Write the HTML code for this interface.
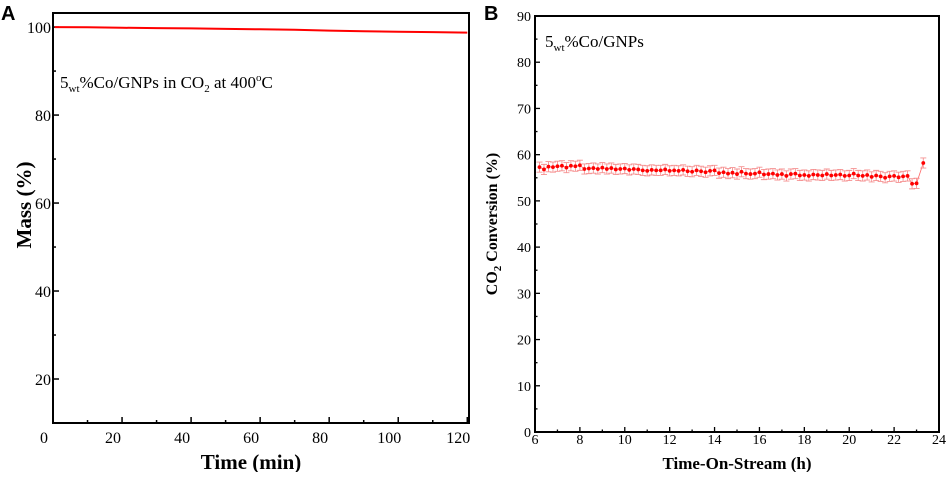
<!DOCTYPE html>
<html><head><meta charset="utf-8"><style>
html,body{margin:0;padding:0;background:#fff;}
svg text{font-family:"Liberation Serif",serif;}
</style></head><body>
<svg id="s" width="948" height="472" xmlns="http://www.w3.org/2000/svg">
<text x="1" y="20" font-weight="bold" font-size="20" style="font-family:'Liberation Sans',sans-serif">A</text>
<text x="484" y="20" font-weight="bold" font-size="20" style="font-family:'Liberation Sans',sans-serif">B</text>
</svg>
<script>
// Panel A data
const aTimes=[0.5,10,20,30,40,50,60,70,80,90,100,110,120];
const aMass=[100,99.95,99.85,99.75,99.7,99.6,99.5,99.4,99.2,99.05,98.95,98.85,98.75];
const aXTicks=[0,20,40,60,80,100,120];
const aYTicks=[20,40,60,80,100];
// Panel B data
const bTimes=[6.2,6.4,6.6,6.8,7.0,7.2,7.4,7.6,7.8,8.0,8.2,8.4,8.6,8.8,9.0,9.2,9.4,9.6,9.8,10.0,10.2,10.4,10.6,10.8,11.0,11.2,11.4,11.6,11.8,12.0,12.2,12.4,12.6,12.8,13.0,13.2,13.4,13.6,13.8,14.0,14.2,14.4,14.6,14.8,15.0,15.2,15.4,15.6,15.8,16.0,16.2,16.4,16.6,16.8,17.0,17.2,17.4,17.6,17.8,18.0,18.2,18.4,18.6,18.8,19.0,19.2,19.4,19.6,19.8,20.0,20.2,20.4,20.6,20.8,21.0,21.2,21.4,21.6,21.8,22.0,22.2,22.4,22.6,22.8,23.0,23.3];
const bConv=[57.3,56.8,57.4,57.3,57.5,57.6,57.2,57.6,57.5,57.7,
56.9,57.0,57.1,56.9,57.2,56.9,57.1,56.8,56.9,57.0,
56.7,56.9,56.8,56.6,56.5,56.7,56.6,56.6,56.8,56.5,
56.6,56.5,56.7,56.4,56.3,56.6,56.4,56.2,56.5,56.6,
56.0,56.2,55.9,56.1,55.8,56.3,55.9,55.8,55.9,56.2,
55.7,55.8,55.9,55.6,55.8,55.4,55.8,55.9,55.5,55.6,
55.4,55.7,55.6,55.5,55.8,55.5,55.6,55.7,55.4,55.5,
55.9,55.5,55.4,55.6,55.2,55.5,55.3,55.0,55.3,55.4,
55.1,55.3,55.4,53.7,53.8,58.2];
const bErr=1.1;
const bXTicks=[6,8,10,12,14,16,18,20,22,24];
const bYTicks=[0,10,20,30,40,50,60,70,80,90];

const NS="http://www.w3.org/2000/svg";
const svg=document.getElementById('s');
function mk(tag,attrs,parent){const e=document.createElementNS(NS,tag);for(const k in attrs)e.setAttribute(k,attrs[k]);(parent||svg).appendChild(e);return e;}

// ---- Panel A ----
const A={x0:53,x1:469,y0:13,y1:423,xmin:0,xmax:120.5,ymin:10,ymax:103.2};
const ax=v=>A.x0+(v-A.xmin)/(A.xmax-A.xmin)*(A.x1-A.x0);
const ay=v=>A.y1-(v-A.ymin)/(A.ymax-A.ymin)*(A.y1-A.y0);
const gA=mk('g',{});


for(let v=0;v<=120;v+=10){const big=v%20===0;const t=mk('line',{x1:ax(v),x2:ax(v),y1:A.y1,y2:A.y1-(big?6:3),stroke:'#000','stroke-width':1.5},gA);

}
aXTicks.forEach(v=>{const t=mk('text',{x:ax(v)-9,y:443,'font-size':16,'text-anchor':'middle'},gA);t.textContent=v;

});
for(let v=20;v<=100;v+=10){const big=v%20===0;const t=mk('line',{x1:A.x0,x2:A.x0+(big?6:3),y1:ay(v),y2:ay(v),stroke:'#000','stroke-width':1.5},gA);

}
aYTicks.forEach(v=>{const t=mk('text',{x:A.x0-2,y:ay(v)+6,'font-size':16,'text-anchor':'end'},gA);t.textContent=v;

});
const fa=mk('rect',{x:A.x0,y:A.y0,width:A.x1-A.x0,height:A.y1-A.y0,fill:'none',stroke:'#000','stroke-width':2},gA);


const la=mk('polyline',{points:aTimes.map((t,i)=>ax(t)+','+ay(aMass[i])).join(' '),fill:'none',stroke:'#f00','stroke-width':2},gA);


const ta=mk('text',{x:251,y:469,'font-size':21,'font-weight':'bold','text-anchor':'middle'},gA);ta.textContent='Time (min)';


const ya=mk('text',{x:0,y:0,'font-size':21,'font-weight':'bold','text-anchor':'middle',transform:'translate(31,205) rotate(-90)'},gA);ya.textContent='Mass (%)';


const ann=mk('text',{x:60,y:88,'font-size':17},gA);
ann.innerHTML='5<tspan font-size="11" dy="4">wt</tspan><tspan dy="-4">%Co/GNPs  in CO</tspan><tspan font-size="11" dy="4">2</tspan><tspan dy="-4"> at 400</tspan><tspan font-size="11" dy="-7">o</tspan><tspan dy="7">C</tspan>';



// ---- Panel B ----
const B={x0:535,x1:939,y0:16,y1:432,xmin:6,xmax:24,ymin:0,ymax:90};
const bx=v=>B.x0+(v-B.xmin)/(B.xmax-B.xmin)*(B.x1-B.x0);
const by=v=>B.y1-(v-B.ymin)/(B.ymax-B.ymin)*(B.y1-B.y0);
const gB=mk('g',{});


for(let v=6;v<=24;v+=1){const big=v%2===0;const t=mk('line',{x1:bx(v),x2:bx(v),y1:B.y1,y2:B.y1-(big?5:2.5),stroke:'#000','stroke-width':1.3},gB);

}
bXTicks.forEach(v=>{const t=mk('text',{x:bx(v),y:444,'font-size':14,'text-anchor':'middle'},gB);t.textContent=v;

});
for(let v=0;v<=90;v+=5){const big=v%10===0;const t=mk('line',{x1:B.x0,x2:B.x0+(big?5:2.5),y1:by(v),y2:by(v),stroke:'#000','stroke-width':1.3},gB);

}
bYTicks.forEach(v=>{const t=mk('text',{x:B.x0-4,y:by(v)+5,'font-size':14,'text-anchor':'end'},gB);t.textContent=v;

});
const fb=mk('rect',{x:B.x0,y:B.y0,width:B.x1-B.x0,height:B.y1-B.y0,fill:'none',stroke:'#000','stroke-width':2},gB);


const lb=mk('polyline',{points:bTimes.map((t,i)=>bx(t)+','+by(bConv[i])).join(' '),fill:'none',stroke:'#f66','stroke-width':0.8},gB);


bTimes.forEach((t,i)=>{
  const x=bx(t),yt=by(bConv[i]+bErr),yb=by(bConv[i]-bErr);
  const e=mk('path',{d:`M${x},${yt}V${yb}M${x-3},${yt}H${x+3}M${x-3},${yb}H${x+3}`,stroke:'#f59090','stroke-width':0.9,fill:'none'},gB);
  
  
  const c=mk('circle',{cx:x,cy:by(bConv[i]),r:1.9,fill:'#f00'},gB);
  
  
});
const tb=mk('text',{x:737,y:469,'font-size':17,'font-weight':'bold','text-anchor':'middle'},gB);tb.textContent='Time-On-Stream (h)';


const yb2=mk('text',{x:0,y:0,'font-size':16,'font-weight':'bold','text-anchor':'middle',transform:'translate(497,224) rotate(-90)'},gB);
yb2.innerHTML='CO<tspan font-size="11" dy="4">2</tspan><tspan dy="-4"> Conversion (%)</tspan>';


const annb=mk('text',{x:545,y:47,'font-size':17},gB);
annb.innerHTML='5<tspan font-size="11" dy="4">wt</tspan><tspan dy="-4">%Co/GNPs</tspan>';


</script>
</body></html>
